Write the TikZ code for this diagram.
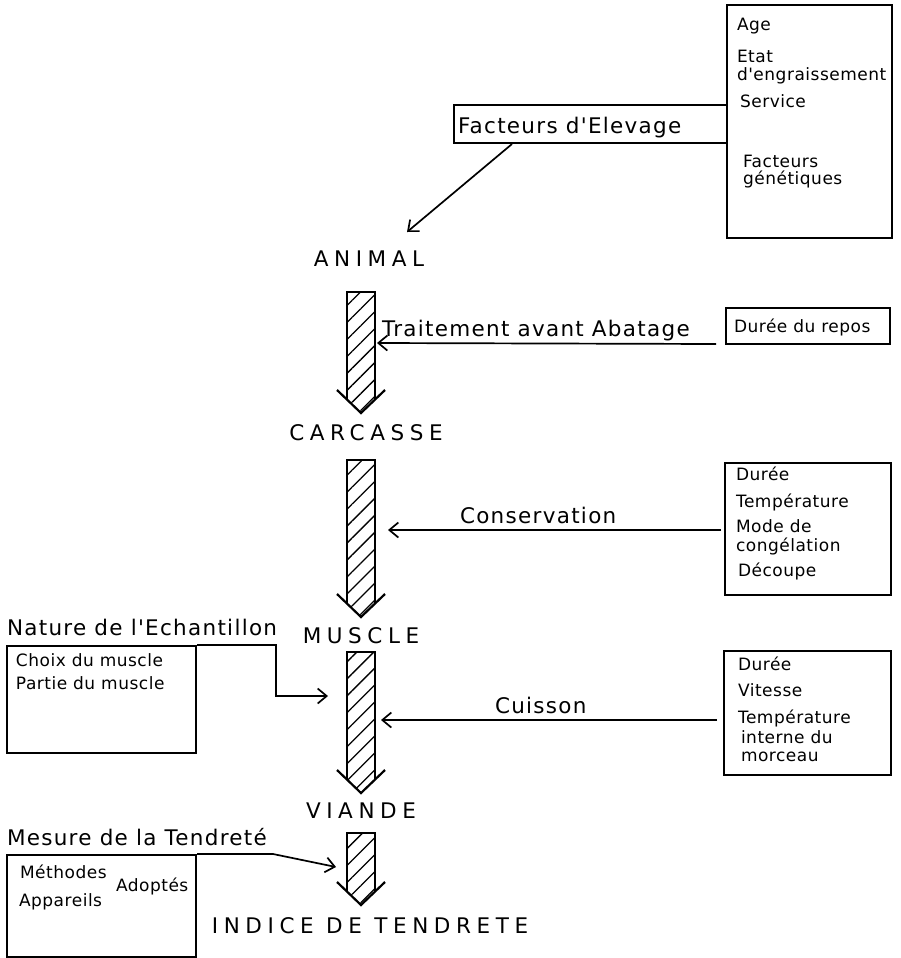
\documentclass[tikz,border=0pt]{standalone}
\usepackage{fontspec}
\setmainfont{DejaVu Sans}
\newfontfamily\capfont{DejaVu Sans}[LetterSpace=26]
\newfontfamily\labfont{DejaVu Sans}[LetterSpace=6]
\newfontfamily\itemfont{DejaVu Sans}[LetterSpace=3]
\usetikzlibrary{arrows.meta, calc, patterns.meta}

\begin{document}
\begin{tikzpicture}[x=1pt, y=-1pt, line width=2pt,
    stage/.style={anchor=base, inner sep=0pt, font=\capfont\fontsize{21.5}{25}\selectfont},
    lab/.style={anchor=base west, inner sep=0pt, font=\labfont\fontsize{21.5}{25}\selectfont},
    item/.style={anchor=base west, inner sep=0pt, font=\itemfont\fontsize{17}{20}\selectfont},
    box/.style={draw, inner sep=0pt},
    arr/.style={-{Straight Barb[length=9pt,width=15pt]}, line width=1.7pt}]
    \useasboundingbox (0,0) rectangle (900,958);

    % stages
    \node[stage] (animal) at (369,266) {ANIMAL};
    \node[stage] (carcasse) at (366,440) {CARCASSE};
    \node[stage] (muscle) at (361,643) {MUSCLE};
    \node[stage] (viande) at (361,818) {VIANDE};
    \node[stage] (indice) at (370,933) {INDICE DE TENDRETE};

    % hatched arrows between the stages
    \foreach \t/\b in {292/413, 460/617, 652/793, 833/905} {
        \fill[pattern={Lines[angle=45, distance=12pt, line width=1.3pt]}]
            (347,\t) -- (375,\t) -- (375,\b-13) -- (361,\b) -- (347,\b-13) -- cycle;
        \draw[line width=2.2pt] (347,\b-13) -- (347,\t) -- (375,\t) -- (375,\b-13);
        \draw[line width=2.2pt] (337,\b-23) -- (361,\b) -- (385,\b-23);
    }

    % boxes
    \node[box, minimum width=165pt, minimum height=233pt] (elevlist) at (809.5,121.5) {};
    \node[box, minimum width=273pt, minimum height=38pt] (elevage) at (590.5,124) {};
    \node[box, minimum width=164pt, minimum height=36pt] (repos) at (808,326) {};
    \node[box, minimum width=166pt, minimum height=132pt] (conslist) at (808,529) {};
    \node[box, minimum width=167pt, minimum height=124pt] (cuislist) at (807.5,713) {};
    \node[box, minimum width=189pt, minimum height=107pt] (choix) at (101.5,699.5) {};
    \node[box, minimum width=189pt, minimum height=102pt] (methodes) at (101.5,906) {};

    % labels
    \node[lab] (elevtxt) at (457,133) {Facteurs d'Elevage};
    \node[lab] (traittxt) at (381,336) {Traitement avant Abatage};
    \node[lab] (constxt) at (459,523) {Conservation};
    \node[lab] (cuistxt) at (494,713) {Cuisson};
    \node[lab] (nattxt) at (6,635) {Nature de l'Echantillon};
    \node[lab] (mestxt) at (6,845) {Mesure de la Tendreté};

    % box contents
    \node[item] (age) at (736,31) {Age};
    \node[item] (etat) at (736,63) {Etat};
    \node[item] (engr) at (736,81) {d'engraissement};
    \node[item] (serv) at (739,107) {Service};
    \node[item] (fact) at (742,167) {Facteurs};
    \node[item] (gene) at (742,184) {génétiques};
    \node[item] (dur) at (733,332) {Durée du repos};
    \node[item] (cdur) at (735,480) {Durée};
    \node[item] (ctemp) at (735,507) {Température};
    \node[item] (cmode) at (735,532) {Mode de};
    \node[item] (ccong) at (735,551) {congélation};
    \node[item] (cdec) at (737,576) {Découpe};
    \node[item] (kdur) at (737,670) {Durée};
    \node[item] (kvit) at (737,696) {Vitesse};
    \node[item] (ktemp) at (737,723) {Température};
    \node[item] (kint) at (740,743) {interne du};
    \node[item] (kmor) at (740,761) {morceau};
    \node[item] (mch) at (15,666) {Choix du muscle};
    \node[item] (mpa) at (15,689) {Partie du muscle};
    \node[item] (meth) at (19,878) {Méthodes};
    \node[item] (adop) at (115,891) {Adoptés};
    \node[item] (appa) at (18,906) {Appareils};

    % free ends of the arrows
    \coordinate (animalin) at (407,232);
    \coordinate (traitin) at (377,343);
    \coordinate (consin) at (388,530);
    \coordinate (cuisin) at (381,720);
    \coordinate (natin) at (328,696);
    \coordinate (mesin) at (336,867);

    \draw[arr] ($(elevage.south west)+(59,0)$) -- (animalin);
    \draw[arr] ($(repos.south west)+(-9,-1)$) -- (traitin);
    \draw[arr] ($(conslist.west)+(-3,1)$) -- (consin);
    \draw[arr] ($(cuislist.west)+(-6,7)$) -- (cuisin);
    \draw[arr] (choix.north east) -- ++(79,0) |- (natin);
    \draw[arr] (methodes.north east) -- ++(76,0) -- (mesin);
\end{tikzpicture}
\end{document}
